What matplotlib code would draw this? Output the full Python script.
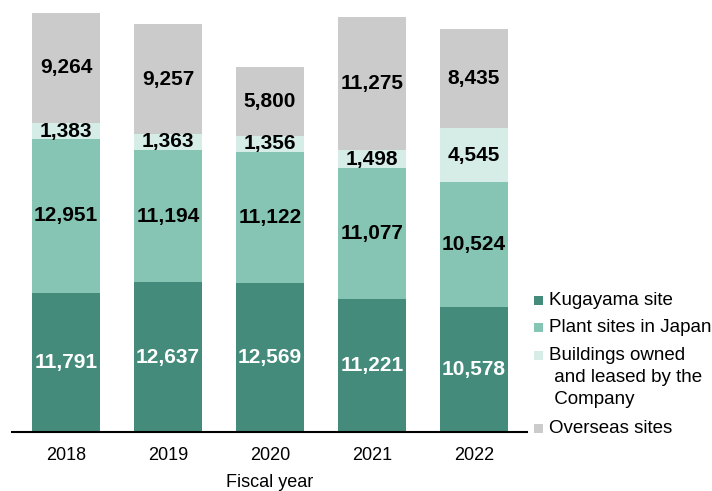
import matplotlib
matplotlib.use("Agg")
import matplotlib.pyplot as plt
from matplotlib.patches import Rectangle

plt.rcParams['font.family'] = ['Liberation Sans', 'DejaVu Sans']

years = ["2018", "2019", "2020", "2021", "2022"]
kugayama = [11791, 12637, 12569, 11221, 10578]
plant_japan = [12951, 11194, 11122, 11077, 10524]
buildings = [1383, 1363, 1356, 1498, 4545]
overseas = [9264, 9257, 5800, 11275, 8435]

series = [
    ("Kugayama site", kugayama, "#448B7B", "white"),
    ("Plant sites in Japan", plant_japan, "#86C4B3", "black"),
    ("Buildings owned\n and leased by the\n Company", buildings, "#D5EDE6", "black"),
    ("Overseas sites", overseas, "#CBCBCB", "black"),
]

W, H = 712, 491
fig = plt.figure(figsize=(W / 100, H / 100), dpi=100)
ax = fig.add_axes([0.017, 0.12, 0.723, 0.88])

x = list(range(len(years)))
bottoms = [0] * len(years)
for name, vals, color, tcolor in series:
    ax.bar(x, vals, width=0.667, bottom=bottoms, color=color, linewidth=0)
    for xi, b, v in zip(x, bottoms, vals):
        ax.text(xi, b + v / 2, f"{v:,}", ha="center", va="center",
                fontsize=15, fontweight="bold", color=tcolor)
    bottoms = [b + v for b, v in zip(bottoms, vals)]

ax.set_xlim(-0.53, 4.52)
ax.set_ylim(0, 36500)
ax.set_xticks(x)
ax.set_xticklabels(years, fontsize=13)
ax.tick_params(axis="x", length=0, pad=11)
ax.set_yticks([])
for side in ["top", "right", "left"]:
    ax.spines[side].set_visible(False)
ax.spines["bottom"].set_color("black")
ax.spines["bottom"].set_linewidth(1.5)
ax.set_xlabel("Fiscal year", fontsize=13, labelpad=7)

# Legend: square swatch aligned with the first line of each label
legend_y = [300, 327, 355, 428]  # pixel rows of the first text line's centre
sq = 9
for (name, _, color, _), ypx in zip(series, legend_y):
    fig.patches.append(Rectangle(((538 - sq / 2) / W, 1 - (ypx + sq / 2) / H),
                                 sq / W, sq / H, transform=fig.transFigure,
                                 facecolor=color, edgecolor="none"))
    fig.text(549 / W, 1 - (ypx - 8) / H, name, ha="left", va="top",
             fontsize=13.5, linespacing=1.38)

fig.savefig("out.png", dpi=100)
